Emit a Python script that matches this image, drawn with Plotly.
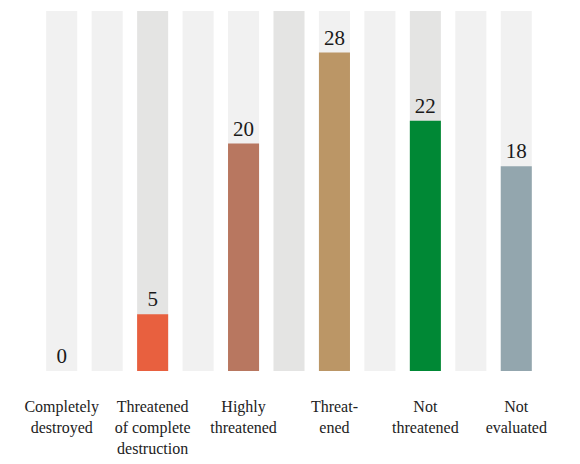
import plotly.graph_objects as go

# ================================
# Dados
# ================================
categorias = ['Completely<br>destroyed', 'Threatened<br>of complete<br>destruction',
              'Highly<br>threatened', 'Threat-<br>ened', 'Not<br>threatened', 'Not<br>evaluated']
valores = [0, 5, 20, 28, 22, 18]
cores = ['#e8603f', '#e8603f', '#b87760', '#bb9666', '#008835', '#93a6ae']

# colunas de fundo (11 faixas, barras nas posições pares)
posicoes_fundo = list(range(11))
cores_fundo = ['#f1f1f1', '#f1f1f1', '#e4e4e3', '#f1f1f1', '#f1f1f1', '#e4e4e3',
               '#f1f1f1', '#f1f1f1', '#e4e4e3', '#f1f1f1', '#f1f1f1']
y_max = 31.65
largura = 0.683

posicoes = [p for p in posicoes_fundo if p % 2 == 0]

# ================================
# Figura
# ================================
fig = go.Figure()
fig.add_trace(go.Bar(x=posicoes_fundo, y=[y_max] * len(posicoes_fundo), width=largura,
                     marker=dict(color=cores_fundo, line=dict(width=0)),
                     hoverinfo='skip', showlegend=False))
fig.add_trace(go.Bar(x=posicoes, y=valores, width=largura,
                     marker=dict(color=cores, line=dict(width=0)),
                     text=valores, textposition='outside', cliponaxis=False,
                     textfont=dict(family='Times New Roman', size=21, color='#1a1a1a'),
                     showlegend=False))

# a página tem margem de 8px no body, por isso a figura é 8px menor
fig.update_layout(
    width=572, height=456,
    margin=dict(l=31, r=41, t=3, b=93),
    barmode='overlay',
    plot_bgcolor='white', paper_bgcolor='white',
    font=dict(family='Liberation Serif', color='#222222'),
)
fig.update_xaxes(range=[-0.5, 10.5], tickmode='array', tickvals=posicoes,
                 ticktext=categorias, showgrid=False, zeroline=False, showline=False,
                 automargin=False, ticks='', ticklabelstandoff=24,
                 tickfont=dict(family='Liberation Serif', size=16, color='#222222'))
fig.update_yaxes(range=[0, y_max], visible=False, automargin=False)

fig.write_html("out.html")
